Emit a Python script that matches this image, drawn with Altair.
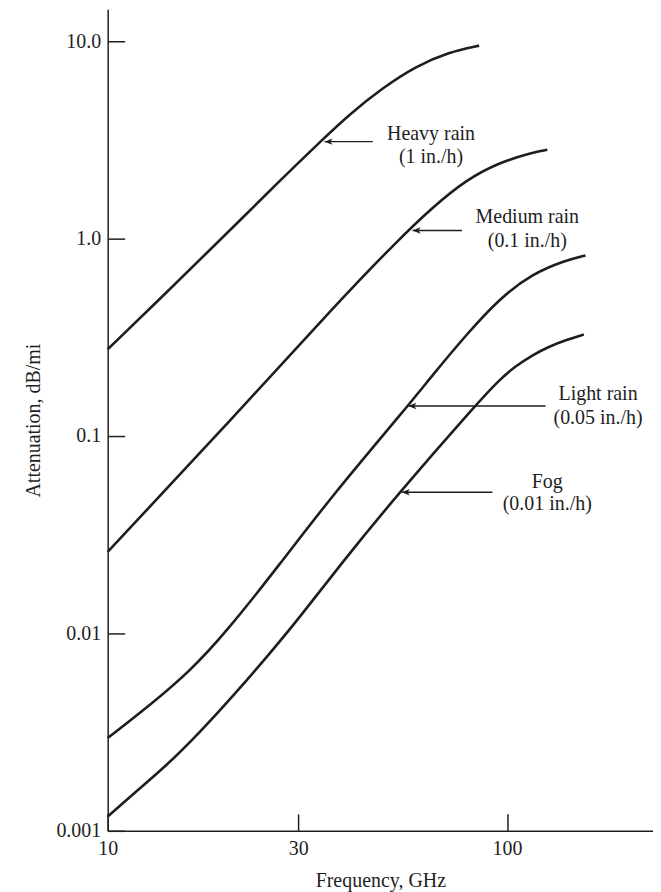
import altair as alt
import pandas as pd

# ---- curve data (Frequency GHz, Attenuation dB/mi) ----
heavy_f = [10, 13.41, 22.71, 27.50, 34.59, 40.34, 48.85, 59.18, 71.66, 85.13]
heavy_a = [0.275, 0.487, 1.387, 2.04, 3.19, 4.27, 5.81, 7.48, 8.83, 9.5]

medium_f = [10, 19.5, 38.1, 53.76, 65.11, 78.87, 95.5, 115.7, 126.1]
medium_a = [0.0259, 0.1096, 0.487, 0.998, 1.44, 1.98, 2.43, 2.73, 2.82]

light_f = [10, 12.79, 16.09, 19.67, 26.98, 35.97, 56.28, 65.11, 78.87, 95.5, 115.7,
           140.1, 157.2]
light_a = [0.00295, 0.004345, 0.006456, 0.0100, 0.02238, 0.0482, 0.1409, 0.2037,
           0.3242, 0.4955, 0.664, 0.775, 0.822]

fog_f = [10, 11.61, 14.07, 17.03, 20.63, 24.99, 30.27, 38.1, 53.76, 83.5, 95.5, 105.1,
         115.7, 127.3, 140.1, 155.7]
fog_a = [0.00118, 0.001545, 0.002148, 0.003163, 0.00484, 0.00756, 0.01205, 0.02213,
         0.0519, 0.1437, 0.1922, 0.2262, 0.2570, 0.2836, 0.3058, 0.327]

series_names = ["Heavy rain", "Medium rain", "Light rain", "Fog"]

# ---- annotation arrows ----
arrow_tip_f = [34.9, 58.0, 56.6, 54.5]
arrow_tail_f = [46.1, 77.1, 124.9, 91.9]
arrow_a = [3.10, 1.10, 0.142, 0.0519]

# ---- annotation labels ----
label_text = ["Heavy rain", "(1 in./h)", "Medium rain", "(0.1 in./h)",
              "Light rain", "(0.05 in./h)", "Fog", "(0.01 in./h)"]
label_f = [64.5, 64.5, 112.4, 112.4, 169.0, 169.0, 126.1, 126.1]
label_a = [3.40, 2.58, 1.28, 0.978, 0.1627, 0.1231, 0.0583, 0.0453]

x_ticks = [10, 30, 100]
y_ticks = [0.001, 0.01, 0.1, 1, 10]

rows = []
for name, fs, as_ in zip(series_names, [heavy_f, medium_f, light_f, fog_f],
                         [heavy_a, medium_a, light_a, fog_a]):
    for i, (f, a) in enumerate(zip(fs, as_)):
        rows.append({"series": name, "freq": f, "atten": a, "idx": i})
curves = pd.DataFrame(rows)

arrows = pd.DataFrame({"tip": arrow_tip_f, "tail": arrow_tail_f, "atten": arrow_a})
labels = pd.DataFrame({"text": label_text, "freq": label_f, "atten": label_a})

FONT = "Liberation Serif"
INK = "#1e1e1e"

xscale = alt.Scale(type="log", domain=[10, 232], nice=False)
yscale = alt.Scale(type="log", domain=[0.001, 14.5], nice=False)

xaxis = alt.Axis(values=x_ticks, format="d", title="Frequency, GHz",
                 tickSize={"expr": "-17"}, labelPadding=25, titlePadding=12,
                 grid=False, domainColor=INK, tickColor=INK, domainWidth=1.5,
                 tickWidth=1.5, labelColor=INK, titleColor=INK,
                 labelFont=FONT, titleFont=FONT, labelFontSize=20,
                 titleFontSize=20, titleFontWeight="normal", labelFlush=False)
yaxis = alt.Axis(values=y_ticks,
                 labelExpr="datum.value >= 1 ? format(datum.value, '.1f') : format(datum.value, '~g')",
                 title="Attenuation, dB/mi",
                 tickSize={"expr": "-17"}, labelPadding=24, titlePadding=12,
                 grid=False, domainColor=INK, tickColor=INK, domainWidth=1.5,
                 tickWidth=1.5, labelColor=INK, titleColor=INK,
                 labelFont=FONT, titleFont=FONT, labelFontSize=20,
                 titleFontSize=20, titleFontWeight="normal", labelFlush=False)

lines = alt.Chart(curves).mark_line(
    interpolate="basis", color=INK, strokeWidth=2.6
).encode(
    x=alt.X("freq:Q", scale=xscale, axis=xaxis),
    y=alt.Y("atten:Q", scale=yscale, axis=yaxis),
    detail="series:N",
    order="idx:Q",
)

shafts = alt.Chart(arrows).mark_rule(color=INK, strokeWidth=1.5).encode(
    x=alt.X("tip:Q", scale=xscale),
    x2="tail:Q",
    y=alt.Y("atten:Q", scale=yscale),
)

heads = alt.Chart(arrows).mark_point(
    shape="M0,0 L2,-0.8 L1.5,0 L2,0.8 Z", filled=True, color=INK,
    size=64, opacity=1, strokeWidth=0.5
).encode(
    x=alt.X("tip:Q", scale=xscale),
    y=alt.Y("atten:Q", scale=yscale),
)

texts = alt.Chart(labels).mark_text(
    font=FONT, fontSize=20, color=INK, align="center", baseline="middle"
).encode(
    x=alt.X("freq:Q", scale=xscale),
    y=alt.Y("atten:Q", scale=yscale),
    text="text:N",
)

chart = alt.layer(lines, shafts, heads, texts).properties(
    width=547, height=824,
    autosize=alt.AutoSizeParams(type="none"),
    padding={"left": 100, "top": 0, "right": 0, "bottom": 60},
    background="white",
).configure_view(stroke=None)

chart.save("out.html", embed_options={"renderer": "svg", "actions": False})
